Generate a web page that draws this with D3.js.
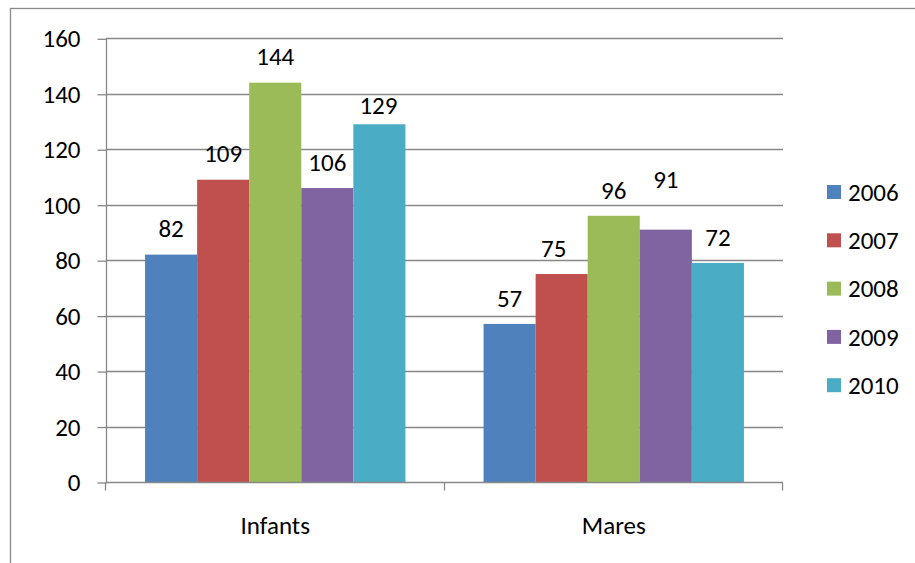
<!DOCTYPE html>
<html><head><meta charset="utf-8">
<script src="https://cdn.jsdelivr.net/npm/d3@7"></script>
<style>
html,body{margin:0;padding:0;background:#fff;}
text{font-family:Carlito, Calibri, Lato, "Open Sans", sans-serif;fill:#000;}
</style></head>
<body>
<svg id="chart" width="915" height="563"></svg>
<script>
// ---- data ----
const categories = ["Infants", "Mares"];
const seriesNames = ["2006", "2007", "2008", "2009", "2010"];
const infantsValues = [82, 109, 144, 106, 129];
const maresValues = [57, 75, 96, 91, 79];
const infantsLabels = ["82", "109", "144", "106", "129"];
const maresLabels = ["57", "75", "96", "91", "72"];
const yTicks = [0, 20, 40, 60, 80, 100, 120, 140, 160];

// ---- style ----
const colors = ["#4F81BD", "#C0504D", "#9BBB59", "#8064A2", "#4BACC6"];
const grid = "#888888";
const fontSize = 25;
// manual label nudges (px) as placed in the original
const labelNudge = {"Mares|2007": [-8, 0], "Mares|2009": [0, -24], "Infants|2010": [-1, 7]};

const valuesByCat = {Infants: infantsValues, Mares: maresValues};
const labelsByCat = {Infants: infantsLabels, Mares: maresLabels};

const svg = d3.select("#chart");
const pL = 106, pR = 783, pT = 38.3, pB = 482;

// outer frame
svg.append("rect").attr("x", 10.5).attr("y", 8.5).attr("width", 1000).attr("height", 1000)
  .attr("fill", "none").attr("stroke", "#8c8c8c").attr("stroke-width", 1.3);

const y = d3.scaleLinear().domain([0, 160]).range([pB, pT]);
const x0 = d3.scaleBand().domain(categories).range([pL, pR]).paddingInner(0).paddingOuter(0);
const barW = x0.bandwidth() / (seriesNames.length + 1.5);
const x1 = d3.scaleBand().domain(seriesNames)
  .range([x0.bandwidth() * 0.5 - barW * 2.5, x0.bandwidth() * 0.5 + barW * 2.5]);

// gridlines
svg.append("g").selectAll("line").data(yTicks.filter(t => t > 0)).join("line")
  .attr("x1", pL).attr("x2", pR)
  .attr("y1", d => Math.round(y(d)) + 0.5).attr("y2", d => Math.round(y(d)) + 0.5)
  .attr("stroke", grid).attr("stroke-width", 1.3);

// y axis
const yAxis = d3.axisLeft(y).tickValues(yTicks).tickSize(9).tickPadding(17);
const gy = svg.append("g").attr("transform", `translate(${pL + 0.5},0.5)`).call(yAxis);
gy.selectAll("line,path").attr("stroke", grid).attr("stroke-width", 1.3);
gy.select(".domain").attr("d", `M0,${pT}V${pB}`);
gy.selectAll("text").attr("font-size", fontSize).attr("font-family", null).attr("fill", "#000");

// bars
const groups = svg.append("g").selectAll("g").data(categories).join("g")
  .attr("transform", d => `translate(${x0(d)},0)`);
groups.selectAll("rect").data(c => seriesNames.map((s, i) => ({c, s, i, v: valuesByCat[c][i], l: labelsByCat[c][i]})))
  .join("rect")
  .attr("x", d => x1(d.s)).attr("width", x1.bandwidth())
  .attr("y", d => y(d.v)).attr("height", d => pB - y(d.v))
  .attr("fill", d => colors[d.i]);

// x axis
const xAxis = d3.axisBottom(x0).tickSize(0).tickPadding(34);
const gx = svg.append("g").attr("transform", `translate(0,${Math.round(pB) + 0.5})`).call(xAxis);
gx.select(".domain").attr("stroke", grid).attr("stroke-width", 1.3).attr("d", `M${pL},0H${pR}`);
gx.selectAll("text").attr("font-size", fontSize).attr("font-family", null).attr("fill", "#000");
gx.append("g").selectAll("line").data([pL, x0("Mares"), pR]).join("line")
  .attr("x1", d => Math.round(d) - 0.5).attr("x2", d => Math.round(d) - 0.5)
  .attr("y1", 0).attr("y2", 8).attr("stroke", grid).attr("stroke-width", 1.3);

// data labels
groups.selectAll("text.lbl").data(c => seriesNames.map((s, i) => ({c, s, i, v: valuesByCat[c][i], l: labelsByCat[c][i]})))
  .join("text").attr("class", "lbl")
  .attr("x", d => x1(d.s) + x1.bandwidth() / 2 + (labelNudge[d.c + "|" + d.s] || [0, 0])[0])
  .attr("y", d => y(d.v) - 26 + (labelNudge[d.c + "|" + d.s] || [0, 0])[1])
  .attr("dy", "0.35em").attr("text-anchor", "middle").attr("font-size", fontSize)
  .text(d => d.l);

// legend
const legend = svg.append("g").selectAll("g").data(seriesNames).join("g")
  .attr("transform", (d, i) => `translate(827,${192 + i * 48.3})`);
legend.append("rect").attr("x", 0).attr("y", -7).attr("width", 14).attr("height", 14)
  .attr("fill", (d, i) => colors[i]);
legend.append("text").attr("x", 21).attr("y", 0).attr("dy", "0.35em")
  .attr("font-size", fontSize).text(d => d);
</script>
</body></html>
